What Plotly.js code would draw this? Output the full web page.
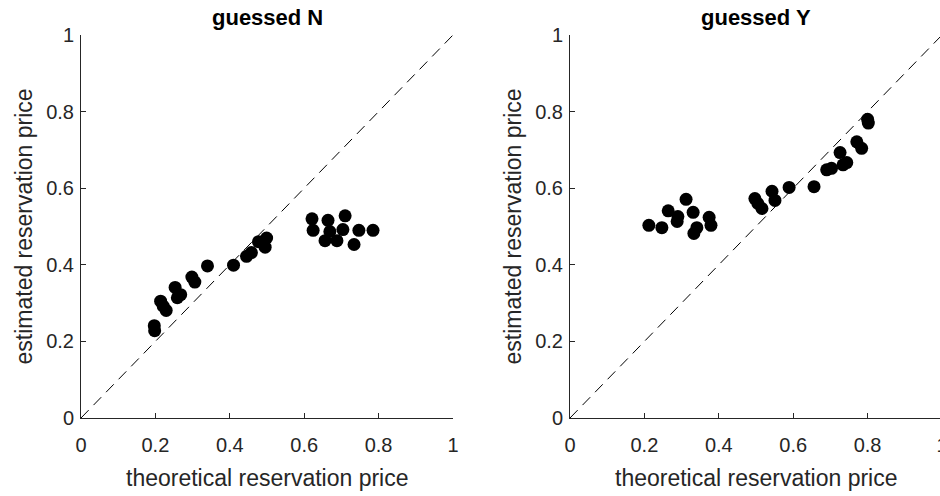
<!DOCTYPE html>
<html>
<head>
<meta charset="utf-8">
<script src="https://cdn.plot.ly/plotly-3.0.1.min.js"></script>
<style>
html, body { margin: 0; padding: 0; overflow: hidden; background: #fff; width: 940px; height: 496px; }
#chart { width: 950px; height: 496px; }
</style>
</head>
<body>
<div id="chart"></div>
<script>
// ---- data ----
const panelTitles = ["guessed N", "guessed Y"];
const xAxisLabel = "theoretical reservation price";
const yAxisLabel = "estimated reservation price";
const tickValues = [0, 0.2, 0.4, 0.6, 0.8, 1];
const identityLine = [0, 1];

const theoreticalN = [0.197, 0.198, 0.214, 0.221, 0.229, 0.253, 0.259, 0.268, 0.298, 0.306,
  0.340, 0.410, 0.445, 0.458, 0.477, 0.495, 0.499,
  0.621, 0.624, 0.664, 0.669, 0.656, 0.688, 0.710, 0.704, 0.747, 0.785, 0.734];
const estimatedN = [0.241, 0.228, 0.305, 0.292, 0.281, 0.341, 0.314, 0.322, 0.368, 0.355,
  0.397, 0.399, 0.422, 0.432, 0.460, 0.446, 0.470,
  0.520, 0.490, 0.516, 0.487, 0.463, 0.463, 0.528, 0.492, 0.490, 0.490, 0.453];

const theoreticalY = [0.212, 0.247, 0.264, 0.290, 0.288, 0.312, 0.331, 0.341, 0.333, 0.374, 0.379,
  0.497, 0.505, 0.516, 0.543, 0.551, 0.589, 0.656, 0.690, 0.703, 0.726, 0.734, 0.744,
  0.771, 0.784, 0.800, 0.802];
const estimatedY = [0.503, 0.497, 0.541, 0.526, 0.513, 0.571, 0.537, 0.497, 0.482, 0.524, 0.503,
  0.573, 0.560, 0.547, 0.592, 0.568, 0.602, 0.604, 0.648, 0.652, 0.693, 0.661, 0.667,
  0.721, 0.704, 0.780, 0.770];

// ---- layout helpers ----
const W = 950, H = 496;
const px = v => v / W;
const py = v => (H - v) / H;
const FONT = "Liberation Sans, Arial, sans-serif";
const INK = "#262626";

function lineTrace(xa, ya) {
  return { x: identityLine, y: identityLine, xaxis: xa, yaxis: ya, mode: "lines", type: "scatter",
    line: { color: "#000", width: 1, dash: "11px,7px" }, hoverinfo: "skip", showlegend: false };
}
function dotTrace(xs, ys, xa, ya) {
  return { x: xs, y: ys, xaxis: xa, yaxis: ya, mode: "markers", type: "scatter",
    marker: { color: "#000", size: 13, line: { width: 0 } }, showlegend: false };
}

const data = [
  lineTrace("x", "y"), dotTrace(theoreticalN, estimatedN, "x", "y"),
  lineTrace("x2", "y2"), dotTrace(theoreticalY, estimatedY, "x2", "y2")
];

function axis(domain, anchor) {
  return {
    domain: domain, anchor: anchor, range: [0, 1], autorange: false,
    tickmode: "array", tickvals: tickValues,
    ticks: "inside", ticklen: 5, tickwidth: 1, tickcolor: INK,
    showline: true, linecolor: INK, linewidth: 1, mirror: false,
    showgrid: false, zeroline: false, fixedrange: true,
    tickfont: { family: FONT, size: 20, color: INK }
  };
}

const yDom = [py(418), py(35)];
const x1Dom = [px(81), px(453)];
const x2Dom = [px(570), px(942)];

const xa1 = axis(x1Dom, "y"); xa1.ticklabelstandoff = 9;
const xa2 = axis(x2Dom, "y2"); xa2.ticklabelstandoff = 9;
const ya1 = axis(yDom, "x"); ya1.ticklabelstandoff = 2;
const ya2 = axis(yDom, "x2"); ya2.ticklabelstandoff = 2;

const annotations = [];
[[x1Dom, panelTitles[0]], [x2Dom, panelTitles[1]]].forEach(([dom, t]) => {
  const cx = (dom[0] + dom[1]) / 2;
  annotations.push({ xref: "paper", yref: "paper", x: cx, y: py(17), xanchor: "center", yanchor: "middle",
    text: "<b>" + t + "</b>", showarrow: false, font: { family: FONT, size: 22, color: "#000" } });
  annotations.push({ xref: "paper", yref: "paper", x: cx, y: py(478), xanchor: "center", yanchor: "middle",
    text: xAxisLabel, showarrow: false, font: { family: FONT, size: 23, color: INK } });
  annotations.push({ xref: "paper", yref: "paper", x: dom[0] - px(58), y: (yDom[0] + yDom[1]) / 2,
    xanchor: "center", yanchor: "middle", textangle: -90,
    text: yAxisLabel, showarrow: false, font: { family: FONT, size: 23, color: INK } });
});

const layout = {
  width: W, height: H,
  margin: { l: 0, r: 0, t: 0, b: 0, pad: 0 },
  paper_bgcolor: "#fff", plot_bgcolor: "#fff",
  xaxis: xa1, yaxis: ya1, xaxis2: xa2, yaxis2: ya2,
  annotations: annotations,
  showlegend: false
};

Plotly.newPlot("chart", data, layout, { displayModeBar: false, staticPlot: true });
</script>
</body>
</html>
